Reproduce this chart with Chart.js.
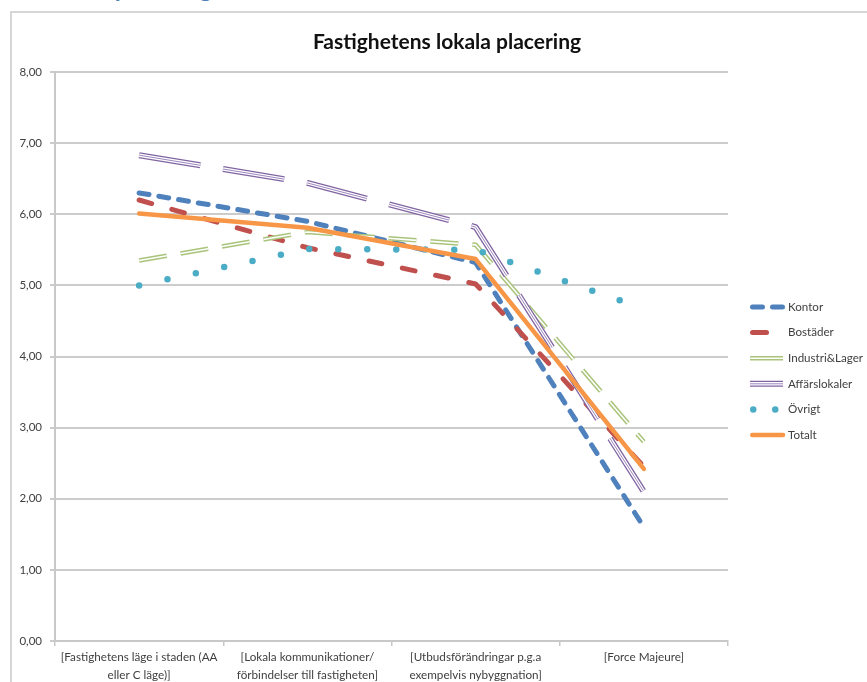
<!DOCTYPE html>
<html>
<head>
<meta charset="utf-8">
<script src="https://cdn.jsdelivr.net/npm/chart.js@4/dist/chart.umd.min.js"></script>
<style>
  body { margin: 0; width: 867px; height: 682px; overflow: hidden; background: #fff; position: relative; }
  #rubrik { position: absolute; left: 46px; top: -24px; font: bold 24px Lato, sans-serif; line-height: 24px; color: #4f81bd; white-space: nowrap; }
  #ram { position: absolute; left: 10px; top: 11px; width: 900px; height: 720px; border: 2px solid #d6d6d6; }
  #myChart { position: absolute; left: 0; top: 0; }
</style>
</head>
<body>
<div id="rubrik">lokala placering</div>
<div id="ram"></div>
<canvas id="myChart" width="867" height="682"></canvas>
<script>
const chartTitle = 'Fastighetens lokala placering';
const categories = [
    ['[Fastighetens läge i staden (AA', 'eller C läge)]'],
    ['[Lokala kommunikationer/', 'förbindelser till fastigheten]'],
    ['[Utbudsförändringar p.g.a', 'exempelvis nybyggnation]'],
    '[Force Majeure]'
];
const yTicks = [0, 1, 2, 3, 4, 5, 6, 7, 8];

const kontor = [6.30, 5.90, 5.32, 1.60];
const bostader = [6.20, 5.53, 5.02, 2.45];
const industri = [5.35, 5.75, 5.57, 2.80];
const affarslokaler = [6.83, 6.44, 5.82, 2.10];
const ovrigt = [5.00, 5.51, 5.50, 4.67];
const totalt = [6.01, 5.81, 5.37, 2.42];

// inner strokes for the double / triple lines (Excel compound lines)
const innerLines = {
    'Industri&Lager': [{ color: '#ffffff', width: 1.6 }],
    'Affärslokaler': [{ color: '#ffffff', width: 3.4 }, { color: '#9d87bd', width: 1 }]
};

const compoundPlugin = {
    id: 'compound',
    afterDatasetDraw(chart, args) {
        const ds = chart.data.datasets[args.index];
        const extra = innerLines[ds.label];
        if (!extra) return;
        const ctx = chart.ctx;
        const area = chart.chartArea;
        ctx.save();
        ctx.beginPath();
        ctx.rect(area.left, area.top - 10, area.right - area.left, area.bottom - area.top + 20);
        ctx.clip();
        extra.forEach(e => {
            ctx.beginPath();
            args.meta.dataset.path(ctx);
            ctx.setLineDash(ds.borderDash || []);
            ctx.lineDashOffset = 0;
            ctx.lineCap = ds.borderCapStyle || 'butt';
            ctx.lineJoin = 'round';
            ctx.strokeStyle = e.color;
            ctx.lineWidth = e.width;
            ctx.stroke();
        });
        ctx.restore();
    },
    afterDraw(chart) {
        const ctx = chart.ctx;
        const area = chart.chartArea;
        ctx.save();
        // title
        ctx.fillStyle = '#111';
        ctx.font = 'bold 21px Lato, sans-serif';
        ctx.textAlign = 'center';
        ctx.textBaseline = 'middle';
        ctx.fillText(chartTitle, 447, 42);

        // legend
        ctx.textAlign = 'left';
        ctx.font = '11.6px Lato, sans-serif';
        chart.data.datasets.forEach((ds, i) => {
            const y = area.top + 235 + i * 25.6;
            const x0 = area.right + 22, x1 = area.right + 55;
            const strokes = [{ color: ds.borderColor, width: ds.borderWidth }].concat(innerLines[ds.label] || []);
            strokes.forEach(s => {
                ctx.beginPath();
                ctx.setLineDash(ds.legendDash || ds.borderDash || []);
                ctx.lineCap = ds.borderCapStyle || 'butt';
                ctx.strokeStyle = s.color;
                ctx.lineWidth = s.width;
                ctx.moveTo(x0 + (ds.borderCapStyle === 'round' ? ds.borderWidth / 2 : 0), y);
                ctx.lineTo(x1, y);
                ctx.stroke();
            });
            ctx.setLineDash([]);
            ctx.fillStyle = '#404040';
            ctx.fillText(ds.label, area.right + 60, y);
        });
        ctx.restore();
    }
};

const ctx = document.getElementById('myChart');
new Chart(ctx, {
    type: 'line',
    data: {
        labels: categories,
        datasets: [{
            label: 'Kontor',
            data: kontor,
            borderColor: '#4f81bd',
            borderWidth: 5,
            borderDash: [10, 10],
            borderCapStyle: 'round',
            order: 6
        }, {
            label: 'Bostäder',
            data: bostader,
            borderColor: '#c0504d',
            borderWidth: 5,
            borderDash: [13, 21],
            legendDash: [14, 40],
            borderCapStyle: 'round',
            order: 5
        }, {
            label: 'Industri&Lager',
            data: industri,
            borderColor: '#a9c47a',
            borderWidth: 4.6,
            borderDash: [28, 14],
            legendDash: [],
            order: 4
        }, {
            label: 'Affärslokaler',
            data: affarslokaler,
            borderColor: '#8064a2',
            borderWidth: 6,
            borderDash: [62, 23],
            legendDash: [],
            order: 3
        }, {
            label: 'Övrigt',
            data: ovrigt,
            borderColor: '#4bacc6',
            borderWidth: 6.5,
            borderDash: [0, 29],
            legendDash: [0, 22],
            borderCapStyle: 'round',
            order: 2
        }, {
            label: 'Totalt',
            data: totalt,
            borderColor: '#f79646',
            borderWidth: 4.5,
            borderCapStyle: 'round',
            order: 1
        }]
    },
    options: {
        responsive: false,
        animation: false,
        layout: { padding: { top: 72, right: 139, left: 0, bottom: 0 } },
        elements: {
            point: { radius: 0 },
            line: { tension: 0, borderJoinStyle: 'round', fill: false }
        },
        plugins: {
            legend: { display: false },
            title: { display: false },
            tooltip: { enabled: false }
        },
        scales: {
            x: {
                offset: true,
                grid: { drawOnChartArea: false, drawTicks: true, tickLength: 5, color: '#c8c8c8', lineWidth: 1.5, offset: true },
                border: { display: true, color: '#c8c8c8', width: 2 },
                ticks: {
                    autoSkip: false, maxRotation: 0, minRotation: 0, padding: 2,
                    color: '#404040',
                    font: { family: 'Lato, sans-serif', size: 11.7, lineHeight: 1.55 }
                },
                afterFit: (scale) => { scale.height = 41; }
            },
            y: {
                min: 0,
                max: 8,
                afterBuildTicks: (scale) => { scale.ticks = yTicks.map(v => ({ value: v })); },
                grid: { color: '#cccccc', lineWidth: 2, drawTicks: true, tickLength: 5 },
                border: { display: true, color: '#c8c8c8', width: 2 },
                ticks: {
                    padding: 8,
                    color: '#404040',
                    font: { family: 'Lato, sans-serif', size: 11.5 },
                    callback: (v) => v.toFixed(2).replace('.', ',')
                },
                afterFit: (scale) => { scale.width = 55; }
            }
        }
    },
    plugins: [compoundPlugin]
});
</script>
</body>
</html>
